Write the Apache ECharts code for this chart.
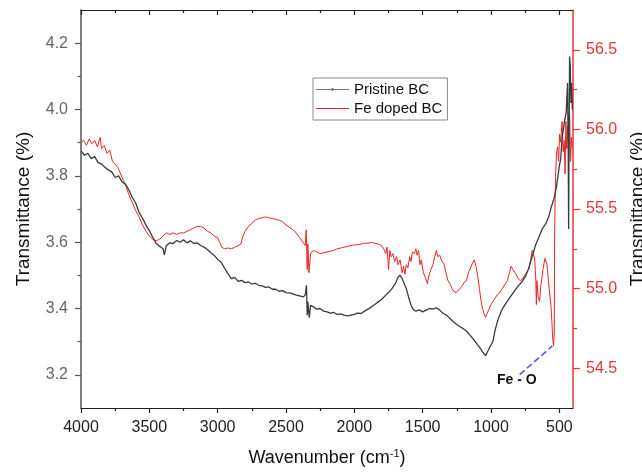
<!DOCTYPE html>
<html>
<head>
<meta charset="utf-8">
<script src="https://cdn.jsdelivr.net/npm/echarts@6/dist/echarts.min.js"></script>
<style>html,body{margin:0;padding:0;background:#fff}#c{width:642px;height:474px}</style>
</head>
<body>
<div id="c"></div>
<script>
// ---- data ----
const xTickValues = [4000, 3500, 3000, 2500, 2000, 1500, 1000, 500];
const xMinorTicks = [3750, 3250, 2750, 2250, 1750, 1250, 750];
const leftTickValues = [3.2, 3.4, 3.6, 3.8, 4.0, 4.2];
const leftMinorTicks = [3.3, 3.5, 3.7, 3.9, 4.1];
const rightTickValues = [54.5, 55.0, 55.5, 56.0, 56.5];
const rightMinorTicks = [54.75, 55.25, 55.75, 56.25];

const pristineWave = [4000,3975,3950,3925,3900,3875,3850,3825,3800,3775,3750,3725,3700,3675,3650,3625,3600,3575,3550,3525,3500,3475,3450,3425,3400,3390,3375,3350,3325,3300,3275,3250,3225,3200,3175,3150,3125,3100,3075,3050,3025,3000,2975,2950,2925,2900,2875,2850,2825,2800,2775,2750,2725,2700,2675,2650,2625,2600,2575,2550,2525,2500,2475,2450,2425,2400,2375,2360,2350,2345,2340,2330,2320,2300,2275,2250,2225,2200,2175,2150,2125,2100,2075,2050,2025,2000,1975,1950,1925,1900,1875,1850,1825,1800,1775,1750,1725,1700,1680,1665,1650,1635,1620,1600,1585,1570,1550,1525,1500,1475,1450,1425,1400,1375,1350,1325,1300,1275,1250,1225,1200,1175,1150,1125,1100,1075,1060,1050,1040,1030,1020,1000,985,970,950,925,900,875,850,825,800,775,750,725,700,675,650,625,600,575,560,540,520,500,490,480,470,460,450,440,435,432,428,425,420,415,410,405];
const pristineT = [3.875,3.862,3.868,3.852,3.858,3.840,3.836,3.826,3.818,3.812,3.795,3.800,3.782,3.775,3.758,3.735,3.718,3.690,3.672,3.652,3.635,3.615,3.596,3.588,3.580,3.562,3.590,3.598,3.596,3.605,3.600,3.607,3.598,3.604,3.596,3.598,3.590,3.585,3.578,3.568,3.560,3.548,3.540,3.522,3.505,3.490,3.494,3.482,3.485,3.478,3.480,3.474,3.476,3.470,3.468,3.464,3.465,3.458,3.458,3.452,3.454,3.448,3.447,3.444,3.440,3.438,3.435,3.440,3.470,3.380,3.420,3.372,3.410,3.405,3.398,3.400,3.392,3.390,3.386,3.388,3.382,3.384,3.380,3.378,3.380,3.382,3.386,3.385,3.392,3.398,3.405,3.412,3.420,3.428,3.438,3.448,3.460,3.475,3.495,3.500,3.490,3.475,3.460,3.430,3.410,3.398,3.392,3.396,3.390,3.395,3.400,3.398,3.402,3.395,3.385,3.380,3.370,3.360,3.352,3.345,3.338,3.330,3.318,3.305,3.292,3.278,3.268,3.262,3.258,3.266,3.260,3.290,3.302,3.335,3.365,3.392,3.410,3.425,3.440,3.455,3.468,3.480,3.495,3.520,3.555,3.590,3.615,3.640,3.655,3.680,3.705,3.730,3.768,3.830,3.850,3.915,3.940,3.970,3.990,4.080,3.880,3.640,3.950,4.160,4.130,4.020,4.080,4.000];

const dopedWave = [4000,3980,3960,3940,3920,3900,3880,3860,3850,3830,3810,3790,3770,3750,3730,3710,3690,3670,3650,3625,3600,3575,3550,3525,3500,3475,3450,3425,3400,3375,3350,3325,3300,3275,3250,3225,3200,3175,3150,3125,3100,3075,3050,3025,3000,2985,2970,2950,2925,2900,2875,2850,2830,2815,2800,2775,2750,2725,2700,2675,2650,2625,2600,2575,2550,2525,2500,2475,2450,2425,2400,2375,2360,2352,2345,2340,2332,2320,2300,2275,2250,2225,2200,2175,2150,2125,2100,2075,2050,2025,2000,1975,1950,1925,1900,1875,1850,1825,1800,1785,1770,1760,1750,1740,1730,1718,1705,1690,1680,1665,1650,1640,1630,1620,1608,1595,1585,1575,1560,1550,1540,1530,1520,1510,1495,1480,1465,1455,1440,1425,1412,1400,1390,1375,1360,1345,1330,1315,1300,1285,1270,1255,1240,1225,1210,1195,1180,1165,1150,1135,1122,1110,1097,1085,1072,1060,1050,1040,1030,1015,1000,985,970,955,940,925,910,895,880,865,853,840,829,815,800,785,770,755,743,725,710,698,690,680,672,668,664,655,645,635,620,605,597,590,580,570,562,555,548,542,537,535,532,527,520,512,505,498,490,480,472,464,458,452,446,439,432,425,418,412,405];
const dopedT = [55.92,55.93,55.90,55.94,55.91,55.93,55.89,55.95,55.88,55.90,55.85,55.87,55.80,55.78,55.76,55.72,55.68,55.64,55.59,55.54,55.49,55.45,55.40,55.36,55.33,55.31,55.30,55.31,55.33,55.35,55.34,55.35,55.34,55.35,55.35,55.36,55.37,55.38,55.39,55.39,55.38,55.36,55.35,55.33,55.32,55.29,55.26,55.25,55.255,55.25,55.26,55.27,55.28,55.33,55.36,55.39,55.41,55.43,55.44,55.445,55.45,55.445,55.44,55.435,55.43,55.42,55.40,55.385,55.37,55.35,55.32,55.29,55.27,55.37,55.12,55.28,55.10,55.22,55.24,55.23,55.22,55.225,55.23,55.235,55.24,55.25,55.255,55.26,55.265,55.27,55.275,55.275,55.28,55.285,55.285,55.29,55.285,55.28,55.27,55.25,55.22,55.26,55.12,55.24,55.20,55.22,55.17,55.20,55.15,55.18,55.10,55.14,55.09,55.15,55.13,55.20,55.17,55.23,55.22,55.25,55.21,55.24,55.15,55.18,55.10,55.07,55.03,55.08,55.12,55.15,55.20,55.24,55.20,55.21,55.17,55.16,55.10,55.05,55.03,55.00,54.98,54.975,54.99,55.00,55.02,55.04,55.05,55.10,55.13,55.16,55.18,55.14,55.08,55.00,54.92,54.87,54.84,54.82,54.83,54.87,54.90,54.92,54.94,54.96,54.97,54.99,55.01,55.03,55.05,55.10,55.14,55.12,55.11,55.09,55.06,55.05,55.06,55.08,55.09,55.12,55.18,55.24,55.22,55.18,55.05,54.90,55.05,54.95,54.92,55.02,55.12,55.19,55.19,55.15,55.05,54.96,54.90,54.80,54.68,54.64,54.72,55.30,55.50,55.72,55.86,55.89,55.80,55.97,55.92,56.05,55.86,55.93,55.72,56.05,55.88,56.02,55.84,56.10,55.80,55.95,55.88];

// annotation (Fe - O) arrow end points in data space (right axis)
const arrowFrom = [790, 54.46];
const arrowTo = [551, 54.64];

const zip = (a, b) => a.map((x, i) => [x, b[i]]);

const FONT = 'Liberation Sans, Arial, sans-serif';
const chart = echarts.init(document.getElementById('c'), null, {renderer: 'canvas'});

const baseX = {type: 'value', min: 400, max: 4000, inverse: true, gridIndex: 0, splitLine: {show: false}};
const baseLeft = {type: 'value', min: 3.1, max: 4.3, splitLine: {show: false}};
const baseRight = {type: 'value', min: 54.25, max: 56.75, splitLine: {show: false}};

const option = {
  animation: false,
  backgroundColor: '#fff',
  textStyle: {fontFamily: FONT},
  grid: {left: 81, right: 69, top: 10, bottom: 66, containLabel: false, outerBoundsMode: 'none'},
  legend: {
    orient: 'vertical', left: 313, top: 78,
    padding: [4, 5, 4, 3], itemGap: 4, itemWidth: 33, itemHeight: 14,
    borderColor: '#888', borderWidth: 1, symbolKeepAspect: true,
    textStyle: {fontSize: 15, color: '#111', fontFamily: FONT},
    data: [
      {name: 'Pristine BC', icon: 'path://M0,1.1 L33,1.1 L33,1.9 L0,1.9 Z M15.5,0 L17.5,0 L17.5,3 L15.5,3 Z'},
      {name: 'Fe doped BC', icon: 'path://M0,0 L33,0 L33,1.2 L0,1.2 Z'}
    ]
  },
  xAxis: [
    Object.assign({}, baseX, {
      position: 'bottom',
      name: 'Wavenumber (cm{sup|-1})', nameLocation: 'middle', nameGap: 40,
      nameTextStyle: {fontSize: 18, color: '#111', fontFamily: FONT, lineHeight: 20,
        rich: {sup: {fontSize: 11, lineHeight: 11, verticalAlign: 'top', color: '#111', fontFamily: FONT}}},
      axisLine: {lineStyle: {color: '#222', width: 1.2}},
      axisTick: {customValues: xTickValues, length: 5, lineStyle: {color: '#222', width: 1.2}},
      axisLabel: {customValues: xTickValues, fontSize: 16, color: '#222', margin: 12, fontFamily: FONT,
        formatter: v => String(Math.round(v))}
    }),
    Object.assign({}, baseX, {
      position: 'bottom', axisLine: {show: false},
      axisTick: {customValues: xMinorTicks, length: 3, lineStyle: {color: '#222', width: 1.2}},
      axisLabel: {show: false}
    }),
    Object.assign({}, baseX, {
      position: 'top', axisLine: {show: true, lineStyle: {color: '#222', width: 1.2}},
      axisTick: {customValues: xTickValues, inside: true, length: 5, lineStyle: {color: '#222', width: 1.2}},
      axisLabel: {show: false}
    }),
    Object.assign({}, baseX, {
      position: 'top', axisLine: {show: false},
      axisTick: {customValues: xMinorTicks, inside: true, length: 3, lineStyle: {color: '#222', width: 1.2}},
      axisLabel: {show: false}
    })
  ],
  yAxis: [
    Object.assign({}, baseLeft, {
      position: 'left',
      name: 'Transmittance (%)', nameLocation: 'middle', nameGap: 48,
      nameTextStyle: {fontSize: 19, color: '#111', fontFamily: FONT},
      axisLine: {show: true, lineStyle: {color: '#555', width: 1.5}},
      axisTick: {customValues: leftTickValues, length: 6, lineStyle: {color: '#555', width: 1.2}},
      axisLabel: {customValues: leftTickValues, fontSize: 16, color: '#666', margin: 13, fontFamily: FONT,
        formatter: v => Number(v).toFixed(1)}
    }),
    Object.assign({}, baseRight, {
      position: 'right',
      name: 'Transmittance (%)', nameLocation: 'middle', nameGap: 55,
      nameTextStyle: {fontSize: 19, color: '#111', fontFamily: FONT},
      axisLine: {show: true, lineStyle: {color: '#e8353b', width: 1.5}},
      axisTick: {customValues: rightTickValues, length: 7, lineStyle: {color: '#e8353b', width: 1.2}},
      axisLabel: {customValues: rightTickValues, fontSize: 16, color: '#e8353b', margin: 13, fontFamily: FONT,
        formatter: v => Number(v).toFixed(1)}
    }),
    Object.assign({}, baseLeft, {
      position: 'left', axisLine: {show: false},
      axisTick: {customValues: leftMinorTicks, length: 3.5, lineStyle: {color: '#555', width: 1.2}},
      axisLabel: {show: false}
    }),
    Object.assign({}, baseRight, {
      position: 'right', axisLine: {show: false},
      axisTick: {customValues: rightMinorTicks, length: 4, lineStyle: {color: '#e8353b', width: 1.2}},
      axisLabel: {show: false}
    })
  ],
  series: [
    {
      name: 'Pristine BC', type: 'line', xAxisIndex: 0, yAxisIndex: 0,
      data: zip(pristineWave, pristineT),
      symbol: 'none', showSymbol: false,
      lineStyle: {color: '#3a3a3a', width: 1.3}, itemStyle: {color: '#777'},
      z: 3
    },
    {
      name: 'Fe doped BC', type: 'line', xAxisIndex: 0, yAxisIndex: 1,
      data: zip(dopedWave, dopedT),
      symbol: 'none', showSymbol: false,
      lineStyle: {color: '#ee2424', width: 1}, itemStyle: {color: '#ee2424'},
      z: 2,
      markLine: {
        silent: true, symbol: ['none', 'arrow'], symbolSize: [0, 13],
        lineStyle: {type: 'dashed', color: '#5555ee', width: 1.6},
        label: {show: false},
        data: [[{coord: arrowFrom}, {coord: arrowTo}]]
      }
    }
  ],
  graphic: [
    {type: 'text', left: 497, top: 373, z: 100,
     style: {text: 'Fe - O', font: 'bold 14px Liberation Sans, Arial, sans-serif', fill: '#111'}}
  ]
};
chart.setOption(option);
</script>
</body>
</html>
